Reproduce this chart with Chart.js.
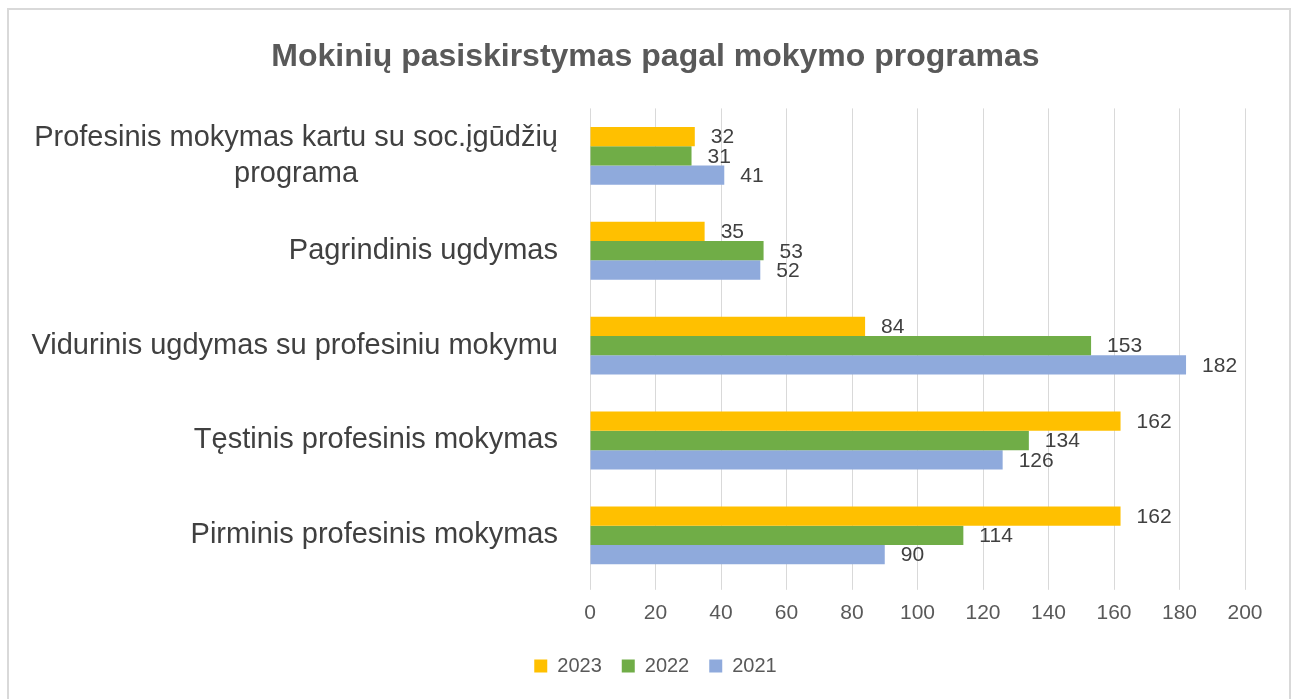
<!DOCTYPE html>
<html>
<head>
<meta charset="utf-8">
<script src="https://cdn.jsdelivr.net/npm/chart.js@4.4.1/dist/chart.umd.min.js"></script>
<style>
    html, body { margin: 0; padding: 0; background: #fff; }
    #wrap { position: relative; width: 1301px; height: 699px; }
    #frame {
        position: absolute; left: 7px; top: 8px; width: 1284px; height: 700px;
        border: 2px solid #d9d9d9; box-sizing: border-box; pointer-events: none;
    }
</style>
</head>
<body>
<div id="wrap">
    <canvas id="chart" width="1301" height="699"></canvas>
    <div id="frame"></div>
</div>
<script>
// ── DATA ─────────────────────────────────────────────
const categories = [
    ['Profesinis mokymas kartu su soc.įgūdžių', 'programa'],
    'Pagrindinis ugdymas',
    'Vidurinis ugdymas su profesiniu mokymu',
    'Tęstinis profesinis mokymas',
    'Pirminis profesinis mokymas'
];
const years     = ['2023', '2022', '2021'];
const values2023 = [32, 35, 84, 162, 162];
const values2022 = [31, 53, 153, 134, 114];
const values2021 = [41, 52, 182, 126, 90];
const colors    = ['#FFC000', '#70AD47', '#8FAADC'];

const FONT = '"Liberation Sans", Arial, sans-serif';

// value labels to the right of each bar
const valueLabels = {
    id: 'valueLabels',
    afterDatasetsDraw(chart) {
        const ctx = chart.ctx;
        ctx.save();
        ctx.font = '21px ' + FONT;
        ctx.fillStyle = '#404040';
        ctx.textAlign = 'left';
        ctx.textBaseline = 'middle';
        chart.data.datasets.forEach((ds, i) => {
            chart.getDatasetMeta(i).data.forEach((bar, j) => {
                ctx.fillText(ds.data[j], bar.x + 16, bar.y + 1);
            });
        });
        ctx.restore();
    }
};

// category labels: right aligned block, lines centred inside it
const categoryLabels = {
    id: 'categoryLabels',
    afterDraw(chart) {
        const ctx = chart.ctx;
        const y = chart.scales.y;
        const right = chart.chartArea.left - 32;
        const lh = 36;
        ctx.save();
        ctx.font = '29px ' + FONT;
        ctx.fillStyle = '#404040';
        ctx.textAlign = 'center';
        ctx.textBaseline = 'middle';
        categories.forEach((lab, i) => {
            const lines = Array.isArray(lab) ? lab : [lab];
            const w = Math.max(...lines.map(l => ctx.measureText(l).width));
            const cx = right - w / 2;
            const cy = y.getPixelForTick(i);
            lines.forEach((l, k) => {
                ctx.fillText(l, cx, cy + (k - (lines.length - 1) / 2) * lh);
            });
        });
        ctx.restore();
    }
};

new Chart(document.getElementById('chart'), {
    type: 'bar',
    data: {
        labels: categories,
        datasets: [
            { label: years[0], data: values2023, backgroundColor: colors[0] },
            { label: years[1], data: values2022, backgroundColor: colors[1] },
            { label: years[2], data: values2021, backgroundColor: colors[2] }
        ]
    },
    options: {
        indexAxis: 'y',
        responsive: false,
        animation: false,
        datasets: {
            bar: { categoryPercentage: 0.61, barPercentage: 1 }
        },
        layout: { padding: { left: 66, right: 56, top: 0, bottom: 13 } },
        plugins: {
            title: {
                display: true,
                text: 'Mokinių pasiskirstymas pagal mokymo programas',
                color: '#595959',
                font: { family: FONT, size: 32, weight: 'bold' },
                padding: { top: 38, bottom: 32 }
            },
            legend: {
                position: 'bottom',
                labels: {
                    color: '#595959',
                    font: { family: FONT, size: 20 },
                    boxWidth: 13,
                    boxHeight: 13,
                    padding: 20
                }
            },
            tooltip: { enabled: false }
        },
        scales: {
            x: {
                min: 0,
                max: 200,
                ticks: {
                    stepSize: 20,
                    color: '#595959',
                    font: { family: FONT, size: 21 },
                    padding: 11
                },
                grid: { color: '#d9d9d9', tickLength: 7 },
                border: { display: false },
                afterFit(scale) { scale.height -= 1; }
            },
            y: {
                ticks: { display: false },
                grid: { display: false },
                border: { display: false },
                afterFit(scale) { scale.width = 524; }
            }
        }
    },
    plugins: [valueLabels, categoryLabels]
});
</script>
</body>
</html>
